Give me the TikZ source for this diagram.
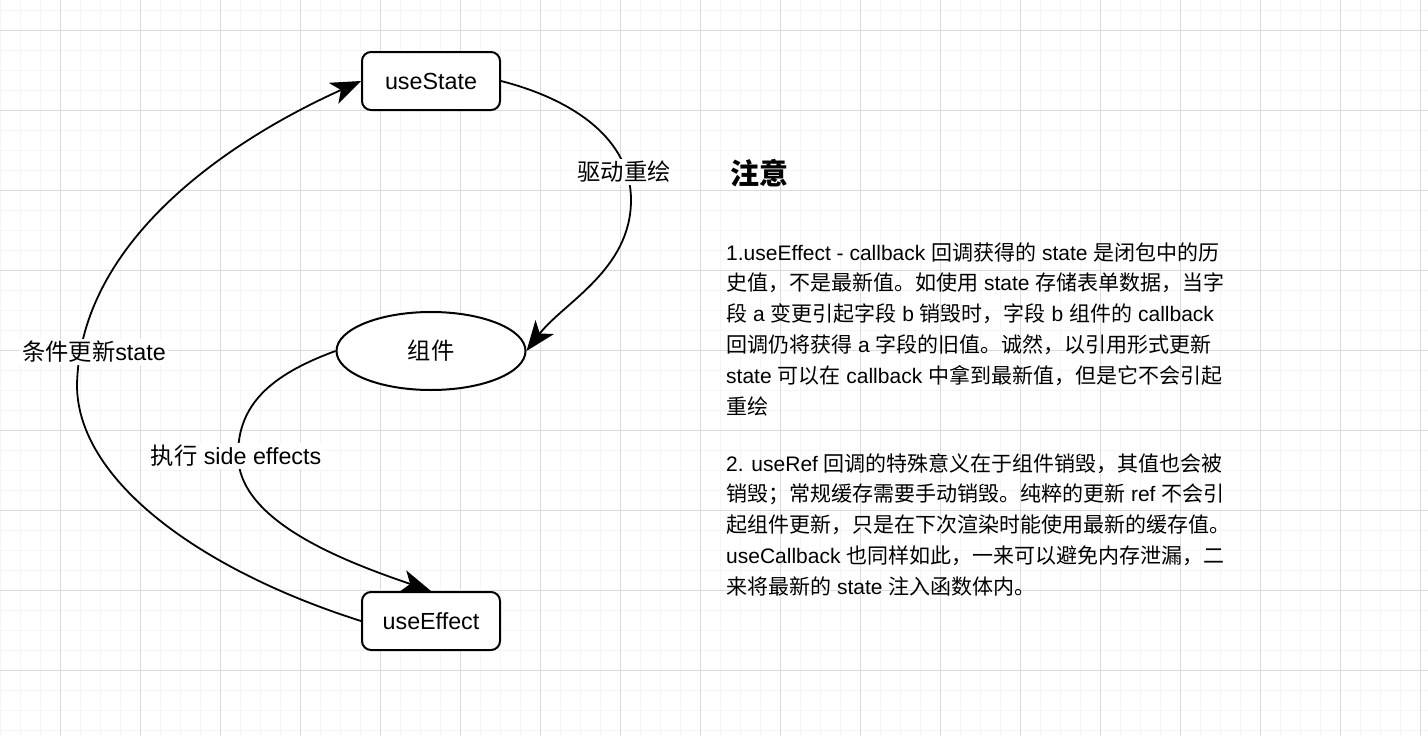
\documentclass[tikz,border=0pt]{standalone}
\usepackage{fontspec}
\setmainfont{Liberation Sans}
\newfontfamily\cjk{Noto Sans CJK SC}
\usetikzlibrary{shapes.geometric,arrows.meta}
\newcommand\zh[1]{{\cjk #1}}
\begin{document}
\begin{tikzpicture}[x=1pt,y=-1pt,
  minorgrid/.style={draw=black!4, line width=1pt},
  majorgrid/.style={draw=black!14, line width=1pt},
  hookbox/.style={draw, line width=2pt, rounded corners=9pt, minimum width=138pt, minimum height=58pt, inner sep=0pt, fill=white, font=\fontsize{23.3}{28}\selectfont},
  compell/.style={draw, ellipse, line width=2pt, minimum width=189pt, minimum height=78pt, inner sep=0pt, fill=white, font=\fontsize{23.3}{28}\selectfont},
  flow/.style={line width=1.8pt, arrows={-Stealth[length=30pt,width=23pt,inset=8pt]}},
  elabel/.style={fill=white, inner sep=2pt, font=\fontsize{23.3}{28}\selectfont},
  para/.style={anchor=base west, inner sep=0pt, font=\fontsize{21}{25}\selectfont},
]
\useasboundingbox (0,0) rectangle (1428,736);
\fill[white] (0,0) rectangle (1428,736);
\foreach \x in {0,20,...,1420} \draw[minorgrid] (\x,0) -- (\x,736);
\foreach \y in {10,30,...,730} \draw[minorgrid] (0,\y) -- (1428,\y);
\foreach \x in {60,140,...,1420} \draw[majorgrid] (\x,0) -- (\x,736);
\foreach \y in {30,110,...,670} \draw[majorgrid] (0,\y) -- (1428,\y);

\node[hookbox] (us) at (431,81) {useState};
\node[compell] (cmp) at (431,351) {\zh{组件}};
\node[hookbox] (ue) at (431,621) {useEffect};

\coordinate (w1) at (631,200);
\coordinate (w2) at (238,455);
\coordinate (w3) at (77,385);

\draw[flow] (us.east) .. controls (575,100) and (631,140) .. (w1) .. controls (631,270) and (563,303) .. (cmp.east);
\draw[flow] (cmp.west) .. controls (270,375) and (238,405) .. (w2) .. controls (238,520) and (340,560) .. (ue.north);
\draw[flow] (ue.west) .. controls (200,570) and (77,480) .. (w3) .. controls (80,240) and (230,140) .. (us.west);

\node[elabel] (l1) at (624,172) {\zh{驱动重绘}};
\node[elabel] (l2) at (236,456) {\zh{执行} side effects};
\node[elabel] (l3) at (94,352) {\zh{条件更新}state};

\node[anchor=base west, inner sep=0pt, font=\cjk\bfseries\fontsize{29}{34}\selectfont] (title) at (730,184) {注意};

\node[para] (a1) at (726,260) {1.useEffect - callback \zh{回调获得的} state \zh{是闭包中的历}};
\node[para] (a2) at (726,290.8) {\zh{史值，不是最新值。如使用} state \zh{存储表单数据，当字}};
\node[para] (a3) at (726,321.6) {\zh{段} a \zh{变更引起字段} b \zh{销毁时，字段} b \zh{组件的} callback};
\node[para] (a4) at (726,352.4) {\zh{回调仍将获得} a \zh{字段的旧值。诚然，以引用形式更新}};
\node[para] (a5) at (726,383.2) {state \zh{可以在} callback \zh{中拿到最新值，但是它不会引起}};
\node[para] (a6) at (726,414) {\zh{重绘}};

\node[para] (b1) at (726,471) {2. useRef \zh{回调的特殊意义在于组件销毁，其值也会被}};
\node[para] (b2) at (726,501.8) {\zh{销毁；常规缓存需要手动销毁。纯粹的更新} ref \zh{不会引}};
\node[para] (b3) at (726,532.6) {\zh{起组件更新，只是在下次渲染时能使用最新的缓存值。}};
\node[para] (b4) at (726,563.4) {useCallback \zh{也同样如此，一来可以避免内存泄漏，二}};
\node[para] (b5) at (726,594.2) {\zh{来将最新的} state \zh{注入函数体内。}};
\end{tikzpicture}
\end{document}
